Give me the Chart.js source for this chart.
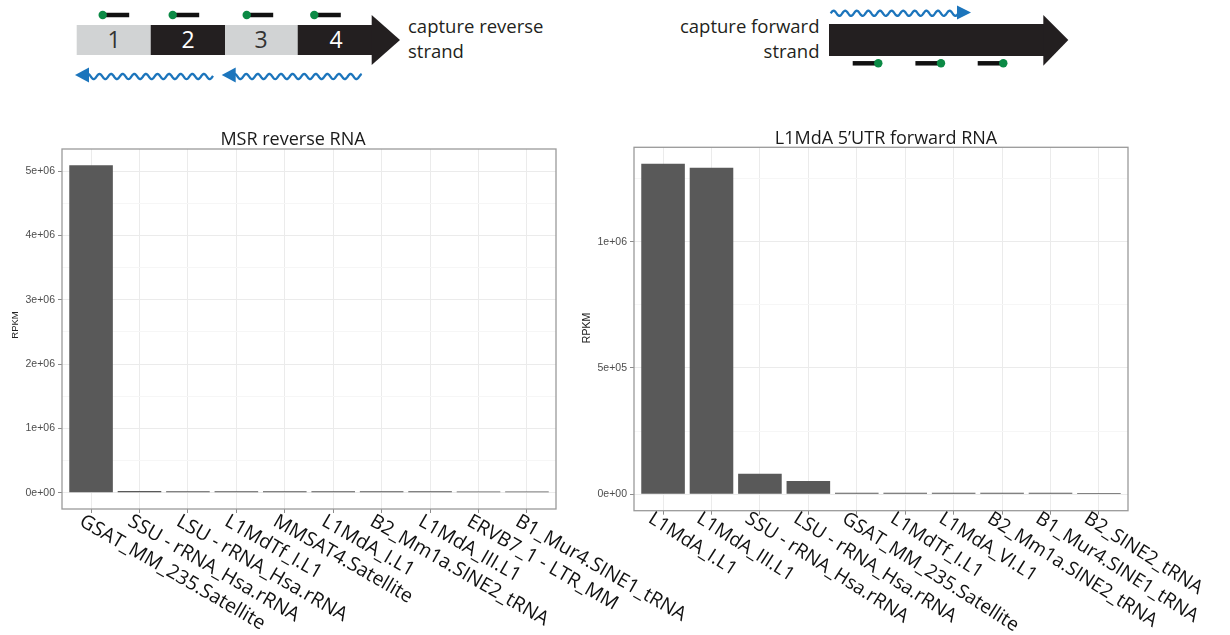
<!DOCTYPE html>
<html>
<head>
<meta charset="utf-8">
<script src="https://cdn.jsdelivr.net/npm/chart.js@4/dist/chart.umd.min.js"></script>
<style>
  html, body { margin: 0; padding: 0; background: #fff; }
  #page { position: relative; width: 1230px; height: 635px; overflow: hidden; background: #fff; }
  #diagram { position: absolute; left: 0; top: 0; }
  .panel { position: absolute; }
  #p1 { left: 0; top: 120px; width: 720px; height: 515px; }
  #p2 { left: 570px; top: 120px; width: 660px; height: 515px; }
  .dtext { font-family: "Open Sans", "Noto Sans", sans-serif; fill: #231F20; }
</style>
</head>
<body>
<div id="page">
  <svg id="diagram" width="1230" height="112" viewBox="0 0 1230 112" xmlns="http://www.w3.org/2000/svg">
    <!-- reverse-strand capture: segmented repeat arrow -->
    <rect x="76.7" y="25" width="74" height="30" fill="#D1D3D4"/>
    <rect x="150.7" y="25" width="74.3" height="30" fill="#231F20"/>
    <rect x="225" y="25" width="72.7" height="30" fill="#D1D3D4"/>
    <rect x="297.7" y="25" width="74.5" height="30" fill="#231F20"/>
    <polygon points="371.7,15 400,40 371.7,65" fill="#231F20"/>
    <text class="dtext" x="114" y="48" font-size="23" text-anchor="middle" style="fill:#333">1</text>
    <text class="dtext" x="188" y="48" font-size="23" text-anchor="middle" style="fill:#fff">2</text>
    <text class="dtext" x="261" y="48" font-size="23" text-anchor="middle" style="fill:#333">3</text>
    <text class="dtext" x="336" y="48" font-size="23" text-anchor="middle" style="fill:#fff">4</text>
    <text class="dtext" x="408" y="33" font-size="18.5">capture reverse</text>
    <text class="dtext" x="408" y="58" font-size="18.5">strand</text>

    <!-- forward-strand capture: single arrow -->
    <rect x="829" y="24" width="215" height="32" fill="#231F20"/>
    <polygon points="1043.3,15 1068.3,40 1043.3,65.7" fill="#231F20"/>
    <text class="dtext" x="819.5" y="33" font-size="18.5" text-anchor="end">capture forward</text>
    <text class="dtext" x="819.5" y="58" font-size="18.5" text-anchor="end">strand</text>
  </svg>
  <div class="panel" id="p1"><canvas id="c1" width="720" height="515"></canvas></div>
  <div class="panel" id="p2"><canvas id="c2" width="660" height="515"></canvas></div>
</div>
<script>
// ---- MSR reverse RNA ----
const msrCategories = [
  "GSAT_MM_235.Satellite", "SSU - rRNA_Hsa.rRNA", "LSU - rRNA_Hsa.rRNA", "L1MdTf_I.L1",
  "MMSAT4.Satellite", "L1MdA_I.L1", "B2_Mm1a.SINE2_tRNA", "L1MdA_III.L1",
  "ERVB7_1 - LTR_MM", "B1_Mur4.SINE1_tRNA"
];
const msrRPKM = [5090000, 24000, 23000, 22000, 21500, 21000, 20500, 20000, 19500, 19000];
const msrMajorTicks = [0, 1000000, 2000000, 3000000, 4000000, 5000000];
const msrTickLabels = ["0e+00", "1e+06", "2e+06", "3e+06", "4e+06", "5e+06"];
const msrMinorTicks = [500000, 1500000, 2500000, 3500000, 4500000];

// ---- L1MdA 5'UTR forward RNA ----
const l1Categories = [
  "L1MdA_I.L1", "L1MdA_III.L1", "SSU - rRNA_Hsa.rRNA", "LSU - rRNA_Hsa.rRNA",
  "GSAT_MM_235.Satellite", "L1MdTf_I.L1", "L1MdA_VI.L1", "B2_Mm1a.SINE2_tRNA",
  "B1_Mur4.SINE1_tRNA", "B2_SINE2_tRNA"
];
const l1RPKM = [1309000, 1293000, 80500, 52700, 6000, 5800, 5600, 5400, 5200, 5000];
const l1MajorTicks = [0, 500000, 1000000];
const l1TickLabels = ["0e+00", "5e+05", "1e+06"];
const l1MinorTicks = [250000, 750000, 1250000];

// ---- schematic decorations (probes and transcripts) ----
const SVGNS = "http://www.w3.org/2000/svg";
function svgEl(tag, attrs, parent) {
  const el = document.createElementNS(SVGNS, tag);
  for (const k in attrs) el.setAttribute(k, attrs[k]);
  parent.appendChild(el);
  return el;
}
function wavePath(x0, x1, y, amp, period) {
  let d = "M" + x0 + " " + y;
  for (let x = x0 + 0.5; x <= x1; x += 0.5) {
    d += " L" + x.toFixed(2) + " " + (y - amp * Math.sin(2 * Math.PI * (x - x0) / period)).toFixed(2);
  }
  return d;
}
const svg = document.getElementById("diagram");
const green = "#0B8A45", blue = "#1C75BC";
// probes above the segmented arrow: dot on the left
[102.7, 172.7, 246.7, 314.3].forEach(x => {
  svgEl("line", { x1: x, y1: 15, x2: x + 26.5, y2: 15, stroke: "#111", "stroke-width": 4.5 }, svg);
  svgEl("circle", { cx: x, cy: 15, r: 4.2, fill: green }, svg);
});
// probes below the forward arrow: dot on the right
[878.3, 941, 1003.3].forEach(x => {
  svgEl("line", { x1: x - 25.6, y1: 63.3, x2: x, y2: 63.3, stroke: "#111", "stroke-width": 4.5 }, svg);
  svgEl("circle", { cx: x, cy: 63.3, r: 4.2, fill: green }, svg);
});
// reverse transcripts (pointing left)
[[75, 213], [221.7, 361.7]].forEach(([tip, end]) => {
  svgEl("path", { d: wavePath(tip + 10, end, 76.5, 2.6, 11.6), fill: "none", stroke: blue, "stroke-width": 2.3 }, svg);
  svgEl("polygon", { points: `${tip},75 ${tip + 14},67.5 ${tip + 14},82.5`, fill: blue }, svg);
});
// forward transcript (pointing right)
svgEl("path", { d: wavePath(830.7, 959, 13.3, 2.6, 11.6), fill: "none", stroke: blue, "stroke-width": 2.3 }, svg);
svgEl("polygon", { points: "971,12.5 957,5.5 957,19.5", fill: blue }, svg);

// ---- bar panels ----
const FONT_TEXT = '"Open Sans", "Noto Sans", sans-serif';
const FONT_AXIS = '"Liberation Sans", Arial, sans-serif';

function makePanel(canvasId, cfg) {
  const W = cfg.width, H = cfg.height, area = cfg.area;
  const peak = Math.max(...cfg.values);
  const yMin = -0.05 * peak, yMax = 1.05 * peak;
  const n = cfg.categories.length;
  const majorLabel = new Map(cfg.major.map((v, i) => [v, cfg.tickLabels[i]]));
  const allTicks = cfg.major.concat(cfg.minor).sort((a, b) => a - b);

  const panelText = {
    id: "panelText_" + canvasId,
    afterDraw(chart) {
      const ctx = chart.ctx, ca = chart.chartArea, xs = chart.scales.x;
      ctx.save();
      // panel border
      ctx.strokeStyle = "#9A9A9A";
      ctx.lineWidth = 1.3;
      ctx.strokeRect(ca.left, ca.top, ca.right - ca.left, ca.bottom - ca.top);
      // title
      ctx.fillStyle = "#1a1a1a";
      ctx.font = "18px " + FONT_TEXT;
      ctx.textAlign = "center";
      ctx.textBaseline = "alphabetic";
      ctx.fillText(cfg.title, cfg.titleX, cfg.titleY);
      // y axis title
      ctx.save();
      ctx.translate(cfg.yTitleX, cfg.yTitleY);
      ctx.rotate(-Math.PI / 2);
      ctx.font = cfg.yTitleSize + "px " + FONT_AXIS;
      ctx.fillStyle = "#222";
      ctx.textAlign = "center";
      ctx.textBaseline = "middle";
      ctx.fillText("RPKM", 0, 0);
      ctx.restore();
      // category labels, slanted downward
      ctx.font = cfg.labelSize + "px " + FONT_TEXT;
      ctx.fillStyle = "#111";
      ctx.textAlign = "left";
      ctx.textBaseline = "middle";
      cfg.categories.forEach((label, i) => {
        const px = xs.getPixelForValue(i);
        ctx.save();
        ctx.translate(px + cfg.labelDx, cfg.labelY);
        ctx.rotate(cfg.labelAngle * Math.PI / 180);
        ctx.fillText(label, 0, 0);
        ctx.restore();
      });
      ctx.restore();
    }
  };

  return new Chart(document.getElementById(canvasId), {
    type: "bar",
    data: {
      datasets: [{
        data: cfg.values.map((v, i) => ({ x: i, y: v })),
        backgroundColor: "#595959",
        borderWidth: 0,
        barPercentage: 0.9,
        categoryPercentage: 1.0
      }]
    },
    options: {
      responsive: false,
      animation: false,
      devicePixelRatio: 1,
      layout: { padding: { left: 0, top: area.top, right: W - area.right, bottom: 0 } },
      plugins: { legend: { display: false }, tooltip: { enabled: false }, title: { display: false } },
      scales: {
        x: {
          type: "linear",
          min: -0.6,
          max: n - 1 + 0.6,
          bounds: "data",
          offset: false,
          grid: { offset: false, color: "#EBEBEB", lineWidth: 1, drawTicks: true, tickLength: 4, tickColor: "#8C8C8C" },
          border: { display: false },
          ticks: { display: false },
          afterBuildTicks(scale) { scale.ticks = cfg.categories.map((_, i) => ({ value: i })); },
          afterFit(scale) { scale.height = H - area.bottom; }
        },
        y: {
          type: "linear",
          min: yMin,
          max: yMax,
          bounds: "data",
          grid: {
            color: c => (c.tick && majorLabel.has(c.tick.value)) ? "#EBEBEB" : "#F6F6F6",
            tickColor: c => (c.tick && majorLabel.has(c.tick.value)) ? "#8C8C8C" : "rgba(0,0,0,0)",
            lineWidth: 1,
            drawTicks: true,
            tickLength: 4
          },
          border: { display: false },
          ticks: {
            autoSkip: false,
            padding: 3,
            color: "#4D4D4D",
            font: { family: FONT_AXIS, size: 10.5 },
            callback: v => majorLabel.has(v) ? majorLabel.get(v) : ""
          },
          afterBuildTicks(scale) { scale.ticks = allTicks.map(v => ({ value: v })); },
          afterFit(scale) { scale.width = area.left; }
        }
      }
    },
    plugins: [panelText]
  });
}

makePanel("c1", {
  width: 720, height: 515,
  area: { left: 62, top: 29, right: 556, bottom: 389 },
  categories: msrCategories, values: msrRPKM,
  major: msrMajorTicks, tickLabels: msrTickLabels, minor: msrMinorTicks,
  title: "MSR reverse RNA", titleX: 293, titleY: 25,
  yTitleX: 15, yTitleY: 205, yTitleSize: 9.5,
  labelAngle: 30, labelSize: 19.5, labelDx: -10, labelY: 400
});

makePanel("c2", {
  width: 660, height: 515,
  area: { left: 64, top: 27.3, right: 558, bottom: 390.7 },
  categories: l1Categories, values: l1RPKM,
  major: l1MajorTicks, tickLabels: l1TickLabels, minor: l1MinorTicks,
  title: "L1MdA 5\u2019UTR forward RNA", titleX: 316, titleY: 24,
  yTitleX: 17, yTitleY: 208, yTitleSize: 10.5,
  labelAngle: 32.5, labelSize: 19, labelDx: -13, labelY: 397
});
</script>
</body>
</html>
